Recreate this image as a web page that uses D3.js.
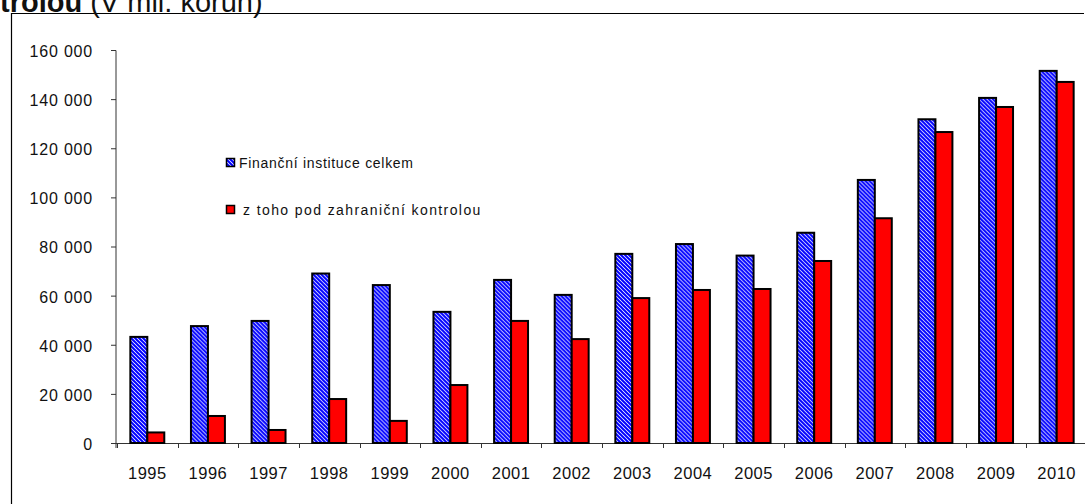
<!DOCTYPE html>
<head>
    <meta charset="utf-8">
    <title>Finanční instituce pod zahraniční kontrolou</title>
    <script src="https://d3js.org/d3.v7.min.js"></script>
    <style>
        body { margin: 0; background: #fff; }
        svg text { font-family: "Liberation Sans", Arial, sans-serif; fill: #111; }
    </style>
</head>
<body>
    <svg width="1085" height="504"></svg>
    <script>
        // data (mil. Kč)
        var years = ["1995", "1996", "1997", "1998", "1999", "2000", "2001", "2002",
                     "2003", "2004", "2005", "2006", "2007", "2008", "2009", "2010"];
        var seriesNames = ["Finanční instituce celkem", "z toho pod zahraniční kontrolou"];
        var celkem = [43200, 47600, 49700, 69000, 64300, 53400, 66400, 60300,
                      77000, 81000, 76300, 85600, 107100, 131800, 140500, 151500];
        var zahranicni = [4300, 11000, 5300, 17900, 9000, 23600, 49700, 42300,
                          59000, 62300, 62700, 74100, 91500, 126600, 136800, 147000];
        var yTicks = [0, 20000, 40000, 60000, 80000, 100000, 120000, 140000, 160000];

        var svg = d3.select("svg");

        // hatch for the first series
        var defs = svg.append("defs");
        var pat = defs.append("pattern")
            .attr("id", "hatch")
            .attr("patternUnits", "userSpaceOnUse")
            .attr("width", 4)
            .attr("height", 4);
        pat.append("rect").attr("width", 4).attr("height", 4).attr("fill", "#fff");
        pat.append("path")
            .attr("d", "M0,0 L4,4 M-1,3 L1,5 M3,-1 L5,1")
            .attr("stroke", "#0000ff")
            .attr("stroke-width", 2);

        // outer frame (cut off at right and bottom)
        svg.append("path")
            .attr("d", "M11.5,504 L11.5,13.5 L1084,13.5")
            .attr("fill", "none")
            .attr("stroke", "#000")
            .attr("stroke-width", 1.2);

        // title, cut off at the top like the original
        var title = svg.append("text")
            .attr("x", 0)
            .attr("y", 12)
            .attr("font-size", "29px");
        title.append("tspan").attr("font-weight", "bold").text("trolou");
        title.append("tspan").text(" (V mil. korun)");

        var x = d3.scaleBand()
            .domain(years)
            .range([117, 1087]);

        var x1 = d3.scaleBand()
            .domain(seriesNames)
            .range([x.bandwidth() * 0.22, x.bandwidth() * 0.78]);

        var y = d3.scaleLinear()
            .domain([0, 160000])
            .range([443, 50]);

        var fmt = function(d) {
            return d3.format(",")(d).replace(/,/g, "\u00a0");
        };

        // y axis
        var yAxis = svg.append("g")
            .attr("transform", "translate(116,0)")
            .call(d3.axisLeft(y).tickValues(yTicks).tickSize(5).tickPadding(18).tickFormat(fmt));
        yAxis.selectAll("text")
            .attr("font-size", "16px")
            .attr("letter-spacing", "0.8px")
            .attr("dy", "0.4em");
        yAxis.selectAll("line, path").attr("stroke", "#333");
        yAxis.select(".domain").attr("d", "M0,50.5V448");

        // x axis
        var xAxis = svg.append("g")
            .attr("transform", "translate(0,443)")
            .call(d3.axisBottom(x).tickSize(0).tickPadding(24));
        xAxis.selectAll("text")
            .attr("font-size", "16.5px")
            .attr("letter-spacing", "0.5px");
        xAxis.select(".domain").attr("d", "M116,0.5H1085").attr("stroke", "#333");
        xAxis.selectAll(".sep")
            .data(years)
            .enter().append("line")
            .attr("class", "sep")
            .attr("x1", function(d) { return Math.round(x(d)) + 0.5; })
            .attr("x2", function(d) { return Math.round(x(d)) + 0.5; })
            .attr("y1", 0)
            .attr("y2", 5)
            .attr("stroke", "#333");

        // bars
        var groups = svg.append("g")
            .selectAll("g")
            .data(years)
            .enter().append("g")
            .attr("transform", function(d) { return "translate(" + x(d) + ",0)"; });

        groups.selectAll("rect")
            .data(function(d, i) {
                return [
                    { key: seriesNames[0], value: celkem[i] },
                    { key: seriesNames[1], value: zahranicni[i] }
                ];
            })
            .enter().append("rect")
            .attr("x", function(d) { return x1(d.key); })
            .attr("width", x1.bandwidth())
            .attr("y", function(d) { return y(d.value); })
            .attr("height", function(d) { return y(0) - y(d.value); })
            .attr("fill", function(d) { return d.key === seriesNames[0] ? "url(#hatch)" : "#ff0000"; })
            .attr("stroke", "#000")
            .attr("stroke-width", 2);

        // legend
        var legendY = [163, 210];
        var legend = svg.append("g")
            .selectAll("g")
            .data(seriesNames)
            .enter().append("g")
            .attr("transform", function(d, i) { return "translate(226," + legendY[i] + ")"; });

        legend.append("rect")
            .attr("x", 0.5)
            .attr("y", -4.5)
            .attr("width", 8)
            .attr("height", 8)
            .attr("fill", function(d, i) { return i === 0 ? "url(#hatch)" : "#ff0000"; })
            .attr("stroke", "#000")
            .attr("stroke-width", 1.5);

        legend.append("text")
            .attr("x", function(d, i) { return i === 0 ? 13 : 17; })
            .attr("y", 5)
            .attr("font-size", "14px")
            .attr("letter-spacing", function(d, i) { return i === 0 ? "0.7px" : "1.4px"; })
            .text(function(d) { return d; });
    </script>
</body>
